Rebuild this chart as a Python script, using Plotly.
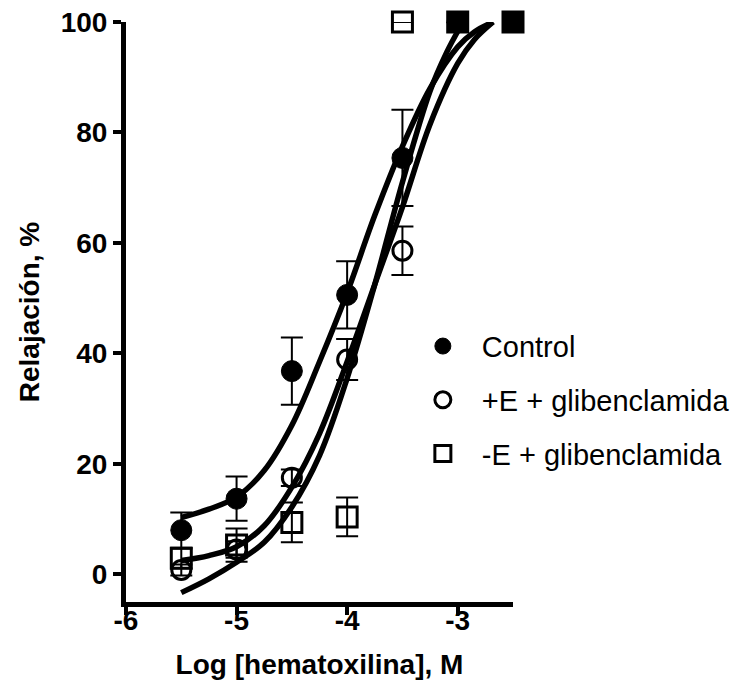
import plotly.graph_objects as go

# ---- data ----
log_conc = [-5.5, -5.0, -4.5, -4.0, -3.5, -3.0, -2.5]

control_y = [8.0, 13.7, 36.8, 50.6, 75.4, 100, 100]
control_err = [3.2, 4.0, 6.1, 6.1, 8.7, None, None]

plusE_y = [0.8, 4.5, 17.5, 38.9, 58.6, 100, 100]
plusE_err = [1.0, 1.5, 1.5, 3.7, 4.4, None, None]

minusE_y = [2.9, 5.3, 9.4, 10.4, 100, 100, 100]
minusE_err = [1.8, 3.0, 3.6, 3.5, None, None, None]
minusE_symbols = ["square-open", "square-open", "square-open", "square-open",
                  "square-open", "square", "square"]

# fitted curves
ctrl_curve_x = [-5.5, -5.25, -5.0, -4.75, -4.5, -4.25, -4.0, -3.75, -3.5, -3.25, -3.0, -2.85, -2.68]
ctrl_curve_y = [10.3, 11.8, 14.0, 18.8, 27.0, 38.5, 51.0, 65.0, 77.5, 88.0, 95.5, 98.2, 100]

plusE_curve_x = [-5.5, -5.25, -5.0, -4.75, -4.5, -4.25, -4.0, -3.75, -3.5, -3.25, -3.0, -2.85, -2.68]
plusE_curve_y = [2.5, 3.4, 5.0, 8.8, 15.8, 25.5, 38.5, 52.5, 66.5, 81.5, 92.5, 96.8, 100]

minusE_curve_x = [-5.5, -5.25, -5.0, -4.75, -4.5, -4.25, -4.0, -3.75, -3.5, -3.25, -3.1, -2.98]
minusE_curve_y = [-3.3, -0.8, 2.2, 5.8, 12.2, 21.5, 35.5, 52.5, 71.0, 87.5, 94.5, 99.0]

x_tickvals = [-6, -5, -4, -3]
x_ticktext = ["-6", "-5", "-4", "-3"]
y_tickvals = [0, 20, 40, 60, 80, 100]
y_ticktext = ["0", "20", "40", "60", "80", "100"]

FONT = "Liberation Sans, Arial, sans-serif"

fig = go.Figure()

for cx, cy in [(ctrl_curve_x, ctrl_curve_y), (plusE_curve_x, plusE_curve_y),
               (minusE_curve_x, minusE_curve_y)]:
    fig.add_trace(go.Scatter(x=cx, y=cy, mode="lines", line=dict(color="black", width=5.5, shape="spline"),
                             showlegend=False, hoverinfo="skip"))

err_style = dict(type="data", visible=True, color="black", thickness=2, width=11)

fig.add_trace(go.Scatter(
    x=log_conc, y=minusE_y, mode="markers", name="-E + glibenclamida",
    legendgroup="c", legendrank=3,
    error_y=dict(array=minusE_err, **err_style),
    marker=dict(symbol=minusE_symbols, size=20, color="black", line=dict(color="black", width=3)),
    cliponaxis=False))

fig.add_trace(go.Scatter(
    x=log_conc, y=plusE_y, mode="markers", name="+E + glibenclamida",
    legendgroup="b", legendrank=2,
    error_y=dict(array=plusE_err, **err_style),
    marker=dict(symbol="circle-open", size=19, color="black", line=dict(color="black", width=3)),
    cliponaxis=False))

fig.add_trace(go.Scatter(
    x=log_conc, y=control_y, mode="markers", name="Control",
    legendgroup="a", legendrank=1,
    error_y=dict(array=control_err, **err_style),
    marker=dict(symbol="circle", size=21, color="black", line=dict(color="black", width=1)),
    cliponaxis=False))

axis_common = dict(showline=True, linecolor="black", linewidth=5, ticks="outside",
                   ticklen=8, tickwidth=4, tickcolor="black", showgrid=False, zeroline=False,
                   tickfont=dict(family=FONT, size=28, color="black", weight="bold"))

fig.update_layout(
    width=742, height=698,
    margin=dict(l=126, r=229, t=22, b=96, autoexpand=False),
    paper_bgcolor="white", plot_bgcolor="white",
    font=dict(family=FONT, color="black"),
    hovermode=False,
    xaxis=dict(range=[-6, -2.5], tickmode="array", tickvals=x_tickvals, ticktext=x_ticktext,
               ticklabelstandoff=-19,
               title=dict(text="Log [hematoxilina], M", standoff=21,
                          font=dict(family=FONT, size=28, color="black", weight="bold")),
               **axis_common),
    yaxis=dict(range=[-5, 100], tickmode="array", tickvals=y_tickvals, ticktext=y_ticktext,
               title=dict(text="Relajación, %", standoff=14,
                          font=dict(family=FONT, size=28, color="black", weight="bold")),
               **axis_common),
    legend=dict(x=0.718, y=0.485, xanchor="left", yanchor="top",
                font=dict(family=FONT, size=29, color="black"),
                itemwidth=68, tracegroupgap=13, bgcolor="rgba(0,0,0,0)",
                traceorder="grouped"),
)

fig.write_html("out.html")
